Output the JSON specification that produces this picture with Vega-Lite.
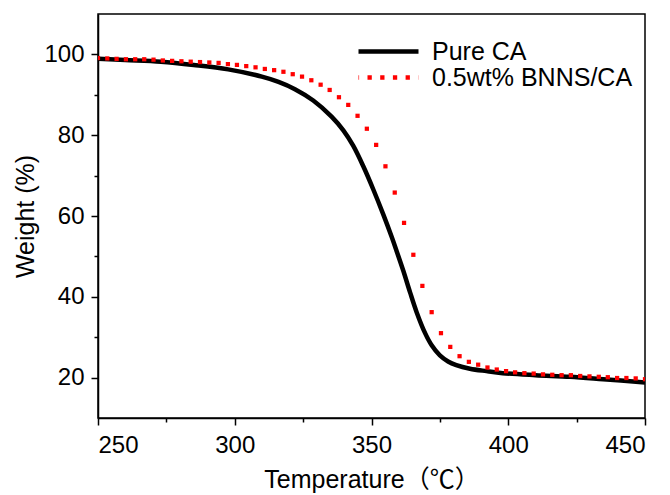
{
  "$schema": "https://vega.github.io/schema/vega-lite/v6.json",
  "width": 547,
  "height": 404,
  "autosize": "none",
  "padding": {"left": 98, "top": 14, "right": 25, "bottom": 77},
  "config": {
    "view": {"stroke": "#000", "strokeWidth": 1.5},
    "font": "Liberation Sans",
    "axis": {
      "domainColor": "#000", "domainWidth": 1.5, "tickColor": "#000", "tickWidth": 1.5,
      "labelColor": "#000", "titleColor": "#000", "labelFont": "Liberation Sans",
      "titleFont": "Liberation Sans, Noto Sans CJK SC", "labelFontSize": 24, "titleFontSize": 25,
      "titleFontWeight": "normal", "grid": false, "labelOverlap": false
    }
  },
  "data": {"values": [
    {"series": "Pure CA", "T": 250, "w": 98.9},
    {"series": "Pure CA", "T": 260, "w": 98.6},
    {"series": "Pure CA", "T": 273, "w": 98.2},
    {"series": "Pure CA", "T": 285, "w": 97.4},
    {"series": "Pure CA", "T": 297.6, "w": 96.3},
    {"series": "Pure CA", "T": 309.9, "w": 94.5},
    {"series": "Pure CA", "T": 316, "w": 93.2},
    {"series": "Pure CA", "T": 322, "w": 91.4},
    {"series": "Pure CA", "T": 328.7, "w": 88.6},
    {"series": "Pure CA", "T": 335.4, "w": 84.6},
    {"series": "Pure CA", "T": 339.7, "w": 81.2},
    {"series": "Pure CA", "T": 343.3, "w": 77.4},
    {"series": "Pure CA", "T": 347.0, "w": 72.3},
    {"series": "Pure CA", "T": 350.7, "w": 66.5},
    {"series": "Pure CA", "T": 354.3, "w": 60.4},
    {"series": "Pure CA", "T": 357.4, "w": 54.8},
    {"series": "Pure CA", "T": 359.2, "w": 51.3},
    {"series": "Pure CA", "T": 361.6, "w": 46.5},
    {"series": "Pure CA", "T": 364.1, "w": 41.1},
    {"series": "Pure CA", "T": 366.5, "w": 36.2},
    {"series": "Pure CA", "T": 369.6, "w": 31.0},
    {"series": "Pure CA", "T": 372.0, "w": 28.0},
    {"series": "Pure CA", "T": 375.0, "w": 25.5},
    {"series": "Pure CA", "T": 378.0, "w": 24.0},
    {"series": "Pure CA", "T": 381.0, "w": 23.1},
    {"series": "Pure CA", "T": 386, "w": 22.2},
    {"series": "Pure CA", "T": 392, "w": 21.6},
    {"series": "Pure CA", "T": 398, "w": 21.1},
    {"series": "Pure CA", "T": 410, "w": 20.6},
    {"series": "Pure CA", "T": 422.6, "w": 20.2},
    {"series": "Pure CA", "T": 434.7, "w": 19.6},
    {"series": "Pure CA", "T": 450, "w": 18.8},
    {"series": "0.5wt% BNNS/CA", "T": 250.0, "w": 99.1},
    {"series": "0.5wt% BNNS/CA", "T": 253.4, "w": 99.0},
    {"series": "0.5wt% BNNS/CA", "T": 256.8, "w": 98.9},
    {"series": "0.5wt% BNNS/CA", "T": 260.2, "w": 98.8},
    {"series": "0.5wt% BNNS/CA", "T": 263.6, "w": 98.8},
    {"series": "0.5wt% BNNS/CA", "T": 266.9, "w": 98.8},
    {"series": "0.5wt% BNNS/CA", "T": 270.3, "w": 98.7},
    {"series": "0.5wt% BNNS/CA", "T": 273.7, "w": 98.5},
    {"series": "0.5wt% BNNS/CA", "T": 277.1, "w": 98.4},
    {"series": "0.5wt% BNNS/CA", "T": 280.5, "w": 98.3},
    {"series": "0.5wt% BNNS/CA", "T": 283.9, "w": 98.2},
    {"series": "0.5wt% BNNS/CA", "T": 287.3, "w": 98.1},
    {"series": "0.5wt% BNNS/CA", "T": 290.7, "w": 98.0},
    {"series": "0.5wt% BNNS/CA", "T": 294.1, "w": 97.9},
    {"series": "0.5wt% BNNS/CA", "T": 297.5, "w": 97.6},
    {"series": "0.5wt% BNNS/CA", "T": 300.8, "w": 97.4},
    {"series": "0.5wt% BNNS/CA", "T": 304.2, "w": 97.1},
    {"series": "0.5wt% BNNS/CA", "T": 307.6, "w": 96.8},
    {"series": "0.5wt% BNNS/CA", "T": 311.0, "w": 96.4},
    {"series": "0.5wt% BNNS/CA", "T": 314.4, "w": 96.1},
    {"series": "0.5wt% BNNS/CA", "T": 317.8, "w": 95.7},
    {"series": "0.5wt% BNNS/CA", "T": 321.2, "w": 95.1},
    {"series": "0.5wt% BNNS/CA", "T": 324.6, "w": 94.5},
    {"series": "0.5wt% BNNS/CA", "T": 328.0, "w": 93.6},
    {"series": "0.5wt% BNNS/CA", "T": 331.4, "w": 92.5},
    {"series": "0.5wt% BNNS/CA", "T": 334.7, "w": 91.2},
    {"series": "0.5wt% BNNS/CA", "T": 338.1, "w": 89.4},
    {"series": "0.5wt% BNNS/CA", "T": 341.5, "w": 87.5},
    {"series": "0.5wt% BNNS/CA", "T": 344.9, "w": 84.8},
    {"series": "0.5wt% BNNS/CA", "T": 348.3, "w": 81.6},
    {"series": "0.5wt% BNNS/CA", "T": 351.7, "w": 77.6},
    {"series": "0.5wt% BNNS/CA", "T": 355.1, "w": 72.3},
    {"series": "0.5wt% BNNS/CA", "T": 358.5, "w": 65.8},
    {"series": "0.5wt% BNNS/CA", "T": 361.9, "w": 58.3},
    {"series": "0.5wt% BNNS/CA", "T": 365.3, "w": 50.4},
    {"series": "0.5wt% BNNS/CA", "T": 368.6, "w": 42.7},
    {"series": "0.5wt% BNNS/CA", "T": 372.0, "w": 36.2},
    {"series": "0.5wt% BNNS/CA", "T": 375.4, "w": 31.0},
    {"series": "0.5wt% BNNS/CA", "T": 378.8, "w": 27.6},
    {"series": "0.5wt% BNNS/CA", "T": 382.2, "w": 25.3},
    {"series": "0.5wt% BNNS/CA", "T": 385.6, "w": 23.9},
    {"series": "0.5wt% BNNS/CA", "T": 389.0, "w": 23.2},
    {"series": "0.5wt% BNNS/CA", "T": 392.4, "w": 22.5},
    {"series": "0.5wt% BNNS/CA", "T": 395.8, "w": 22.0},
    {"series": "0.5wt% BNNS/CA", "T": 399.2, "w": 21.6},
    {"series": "0.5wt% BNNS/CA", "T": 402.5, "w": 21.3},
    {"series": "0.5wt% BNNS/CA", "T": 405.9, "w": 21.1},
    {"series": "0.5wt% BNNS/CA", "T": 409.3, "w": 21.0},
    {"series": "0.5wt% BNNS/CA", "T": 412.7, "w": 20.8},
    {"series": "0.5wt% BNNS/CA", "T": 416.1, "w": 20.7},
    {"series": "0.5wt% BNNS/CA", "T": 419.5, "w": 20.6},
    {"series": "0.5wt% BNNS/CA", "T": 422.9, "w": 20.6},
    {"series": "0.5wt% BNNS/CA", "T": 426.3, "w": 20.4},
    {"series": "0.5wt% BNNS/CA", "T": 429.7, "w": 20.3},
    {"series": "0.5wt% BNNS/CA", "T": 433.1, "w": 20.2},
    {"series": "0.5wt% BNNS/CA", "T": 436.4, "w": 20.1},
    {"series": "0.5wt% BNNS/CA", "T": 439.8, "w": 19.9},
    {"series": "0.5wt% BNNS/CA", "T": 443.2, "w": 19.9},
    {"series": "0.5wt% BNNS/CA", "T": 446.6, "w": 19.8},
    {"series": "0.5wt% BNNS/CA", "T": 450.0, "w": 19.6}
  ]},
  "encoding": {
    "x": {
      "field": "T", "type": "quantitative", "title": "Temperature（℃）",
      "scale": {"domain": [250, 450], "nice": false, "zero": false},
      "axis": {
        "values": [250, 275, 300, 325, 350, 375, 400, 425, 450],
        "labelExpr": "datum.value % 50 === 0 ? datum.label : ''",
        "tickSize": {"condition": {"test": "datum.value % 50 === 0", "value": 7}, "value": 4},
        "labelPadding": 8, "titlePadding": 10
      }
    },
    "y": {
      "field": "w", "type": "quantitative", "title": "Weight (%)",
      "scale": {"domain": [10, 110], "nice": false, "zero": false},
      "axis": {
        "values": [20, 30, 40, 50, 60, 70, 80, 90, 100],
        "labelExpr": "datum.value % 20 === 0 ? datum.label : ''",
        "tickSize": {"condition": {"test": "datum.value % 20 === 0", "value": 7}, "value": 4},
        "labelPadding": 7, "titlePadding": 5
      }
    },
    "color": {
      "field": "series", "type": "nominal",
      "scale": {"domain": ["Pure CA", "0.5wt% BNNS/CA"], "range": ["#000000", "#ff0000"]},
      "legend": {
        "title": null, "orient": "none", "legendX": 278, "legendY": 25,
        "symbolType": "stroke", "symbolSize": 3600, "symbolStrokeWidth": 4.5,
        "labelFontSize": 25, "labelFont": "Liberation Sans", "labelColor": "#000",
        "labelOffset": 31, "labelLimit": 400, "rowPadding": -31,
        "encode": {"symbols": {"update": {
          "strokeDash": {"signal": "datum.value === 'Pure CA' ? [1, 0] : [4.3, 8.4]"},
          "strokeDashOffset": {"signal": "datum.value === 'Pure CA' ? 0 : -9"},
          "strokeWidth": {"signal": "datum.value === 'Pure CA' ? 4.5 : 4.3"}
        }}}
      }
    }
  },
  "layer": [
    {
      "transform": [{"filter": "datum.series === 'Pure CA'"}],
      "mark": {"type": "line", "strokeWidth": 4.5, "interpolate": "catmull-rom", "clip": true}
    },
    {
      "transform": [{"filter": "datum.series !== 'Pure CA'"}],
      "mark": {"type": "point", "shape": "square", "filled": true, "size": 18, "opacity": 1, "clip": true}
    }
  ]
}
